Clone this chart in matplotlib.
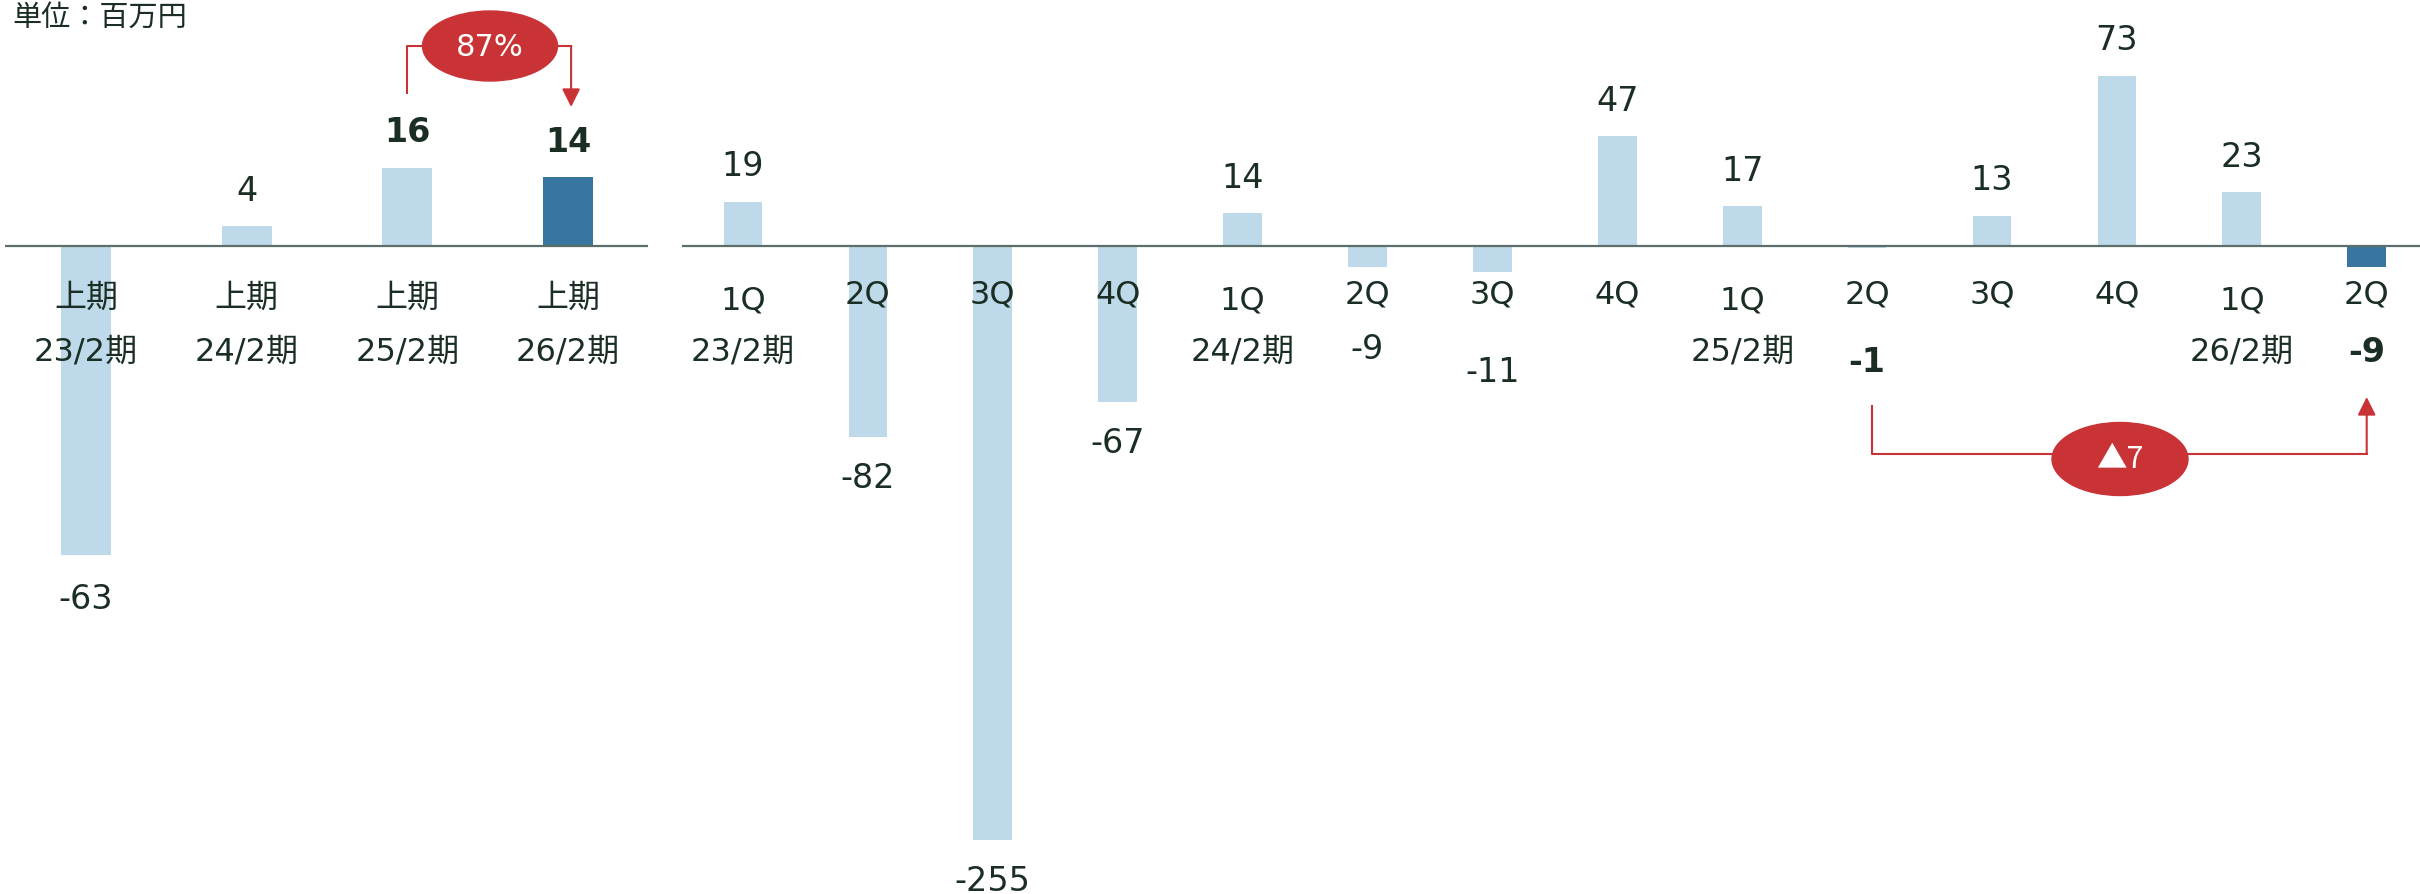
import matplotlib
matplotlib.use("Agg")
import matplotlib.pyplot as plt
from matplotlib.patches import Ellipse, FancyArrowPatch
from matplotlib.lines import Line2D

plt.rcParams['font.family'] = ['DejaVu Sans', 'Noto Sans CJK JP']

# 上期 (first-half) totals, 百万円
half_periods = ["23/2期", "24/2期", "25/2期", "26/2期"]
half_values = [-63, 4, 16, 14]

# quarterly figures
q_labels = ["1Q", "2Q", "3Q", "4Q", "1Q", "2Q", "3Q", "4Q", "1Q", "2Q", "3Q", "4Q", "1Q", "2Q"]
q_periods = ["23/2期", "", "", "", "24/2期", "", "", "", "25/2期", "", "", "", "26/2期", ""]
q_values = [19, -82, -255, -67, 14, -9, -11, 47, 17, -1, 13, 73, 23, -9]

half_change = "87%"
q_change = "▲7"

LIGHT = "#bed9ea"
DARK = "#3876a0"
RED = "#c93336"
TEXT = "#1a2e24"
AXIS = "#5b6e6a"

VAL_FS = 24
CAT_FS = 23

W, H = 2420, 895
fig = plt.figure(figsize=(W / 100, H / 100), dpi=100)

BASE = 247  # zero line, pixels from top


def fy(ypx):
    return 1 - ypx / H


def make_axes(x0, x1, first, step, px_per_unit):
    ax = fig.add_axes([x0 / W, 0, (x1 - x0) / W, 1])
    ax.set_xlim((x0 - first) / step, (x1 - first) / step)
    ax.set_ylim(-(H - BASE) / px_per_unit, BASE / px_per_unit)
    ax.axis('off')
    ax.axhline(0, color=AXIS, lw=1.6, zorder=3)
    return ax


def xpx(ax, i):
    return ax.transData.transform((i, 0))[0]


def value_labels(ax, values, bold_idx, below_px, overrides):
    for i, v in enumerate(values):
        weight = 'bold' if i in bold_idx else 'normal'
        if i in overrides:
            ax.text(i, fy(overrides[i]), f"{v}", transform=ax.get_xaxis_transform(),
                    ha='center', va='center', fontsize=VAL_FS, color=TEXT, fontweight=weight)
            continue
        off = 36 if v >= 0 else -below_px
        ax.annotate(f"{v}", (i, v), xytext=(0, off * 0.72), textcoords='offset points',
                    ha='center', va='center', fontsize=VAL_FS, color=TEXT, fontweight=weight)


def bracket(x_start, y_start, y_mid, x_end, y_end, ell_cx, ell_w):
    # vertical from start, horizontal through the ellipse, arrow into the end bar
    fig.add_artist(Line2D([x_start / W, x_start / W, (ell_cx - ell_w / 2) / W],
                          [fy(y_start), fy(y_mid), fy(y_mid)],
                          transform=fig.transFigure, color=RED, lw=1.5))
    fig.add_artist(Line2D([(ell_cx + ell_w / 2) / W, x_end / W], [fy(y_mid), fy(y_mid)],
                          transform=fig.transFigure, color=RED, lw=1.5))
    fig.add_artist(FancyArrowPatch((x_end / W, fy(y_mid)), (x_end / W, fy(y_end)),
                                   transform=fig.transFigure, color=RED, lw=1.5,
                                   arrowstyle="-|>,head_length=0.5,head_width=0.25",
                                   mutation_scale=22, shrinkA=0, shrinkB=0))


# left panel: first-half totals
axl = make_axes(5, 648, 86, 160.7, 4.9)
xl = range(len(half_values))
axl.bar(xl, half_values, width=0.31,
        color=[DARK if i == len(half_values) - 1 else LIGHT for i in xl], zorder=2)
value_labels(axl, half_values, {2, 3}, 44, {})
for i, p in enumerate(half_periods):
    axl.text(i, fy(298), "上期", transform=axl.get_xaxis_transform(),
             ha='center', va='center', fontsize=CAT_FS, color=TEXT, zorder=4)
    axl.text(i, fy(352), p, transform=axl.get_xaxis_transform(),
             ha='center', va='center', fontsize=CAT_FS, color=TEXT, zorder=4)

# right panel: quarters
axr = make_axes(682, 2420, 743, 124.9, 2.33)
xr = range(len(q_values))
axr.bar(xr, q_values, width=0.31,
        color=[DARK if i == len(q_values) - 1 else LIGHT for i in xr], zorder=2)
value_labels(axr, q_values, {9, 13}, 40, {5: 350, 6: 373, 9: 362, 13: 352})
for i, (q, p) in enumerate(zip(q_labels, q_periods)):
    axr.text(i, fy(301 if q == "1Q" else 295), q, transform=axr.get_xaxis_transform(),
             ha='center', va='center', fontsize=CAT_FS, color=TEXT, zorder=4)
    if p:
        axr.text(i, fy(352), p, transform=axr.get_xaxis_transform(),
                 ha='center', va='center', fontsize=CAT_FS, color=TEXT, zorder=4)

fig.text(12 / W, fy(18), "単位：百万円", ha='left', va='center', fontsize=21,
         color=TEXT, family=['Noto Sans CJK JP', 'DejaVu Sans'])

# change callouts
fig.canvas.draw()
bracket(xpx(axl, 2), 94, 47, xpx(axl, 3) + 3, 108, 490, 135)
fig.add_artist(Ellipse((490 / W, fy(47)), 135 / W, 70 / H, transform=fig.transFigure,
                       color=RED, zorder=5))
fig.text(490 / W, fy(47), half_change, ha='center', va='center', fontsize=22,
         color='white', zorder=6)

bracket(xpx(axr, 9) + 5, 407, 455, xpx(axr, 13), 398, 2120, 136)
fig.add_artist(Ellipse((2120 / W, fy(460)), 136 / W, 73 / H, transform=fig.transFigure,
                       color=RED, zorder=5))
fig.text(2120 / W, fy(460), q_change, ha='center', va='center', fontsize=22,
         color='white', zorder=6, family=['Noto Sans CJK JP', 'DejaVu Sans'])

fig.savefig("out.png", dpi=100, facecolor='white')
